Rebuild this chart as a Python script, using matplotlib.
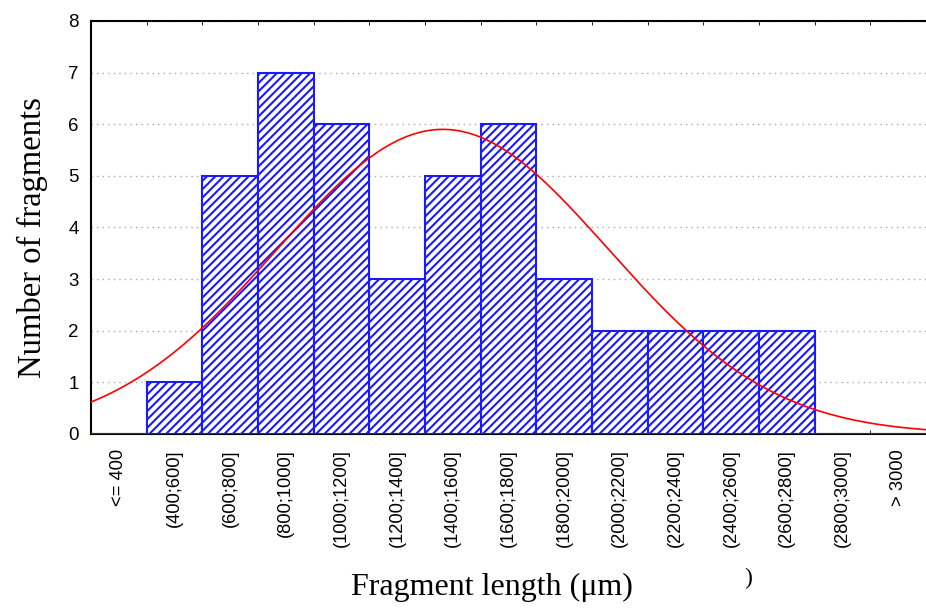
import numpy as np
import matplotlib.pyplot as plt
from matplotlib.ticker import FixedLocator

# histogram classes (um) and counts
bins = ["<= 400", "(400;600]", "(600;800]", "(800;1000]", "(1000;1200]",
        "(1200;1400]", "(1400;1600]", "(1600;1800]", "(1800;2000]",
        "(2000;2200]", "(2200;2400]", "(2400;2600]", "(2600;2800]",
        "(2800;3000]", "> 3000"]
counts = [0, 1, 5, 7, 6, 3, 5, 6, 3, 2, 2, 2, 2, 0, 0]

# fitted normal curve parameters
fit_mean = 1464
fit_sd = 595
bin_width = 200
x_start = 200  # left edge of "<= 400" class

plt.rcParams['hatch.linewidth'] = 1.5
plt.rcParams['hatch.color'] = '#4d4dff'

fig = plt.figure(figsize=(9.26, 6.08), dpi=100)
ax = fig.add_axes([0.0983, 0.2862, 0.9017, 0.6793])

n = len(bins)
edges = x_start + bin_width * np.arange(n + 1)
centers = edges[:-1] + bin_width / 2

ax.bar(centers, counts, width=bin_width, facecolor='white', edgecolor='#1a1aff',
       hatch='////', linewidth=1.5, zorder=3)
# empty classes still show their blue baseline
ax.axhline(0, color='#1a1aff', lw=2, zorder=3.5)

total = sum(counts)
xs = np.linspace(edges[0], edges[-1], 400)
ys = total * bin_width * np.exp(-0.5 * ((xs - fit_mean) / fit_sd) ** 2) / (fit_sd * np.sqrt(2 * np.pi))
ax.plot(xs, ys, color='red', lw=1.2, zorder=4)

ax.set_xlim(edges[0], edges[-1])
ax.set_ylim(0, 8)

ax.set_xticks(centers)
ax.set_xticklabels(bins, rotation=90, family='Liberation Sans', fontsize=13.2, va='top')
ax.xaxis.set_minor_locator(FixedLocator(edges))
ax.tick_params(axis='x', which='major', length=0, pad=11)
ax.tick_params(axis='x', which='minor', length=3, direction='in', top=True, bottom=True)

ax.set_yticks(range(0, 9))
ax.set_yticklabels([str(v) for v in range(0, 9)], family='Liberation Sans', fontsize=13.5)
ax.tick_params(axis='y', length=0, pad=9)

ax.grid(axis='y', linestyle=(0, (1, 3)), color='#aaaaaa', lw=1, zorder=0)
ax.spines['right'].set_visible(False)
for s in ['left', 'top', 'bottom']:
    ax.spines[s].set_linewidth(1.5)

ax.set_ylabel("Number of fragments", family='Liberation Serif', fontsize=23.5)
ax.yaxis.set_label_coords(-0.052, 0.476)
fig.text(0.531, 0.033, "Fragment length (\u03bcm)", family='Liberation Serif', fontsize=23,
         ha='center', va='center')
fig.text(0.808, 0.049, ")", family='Liberation Serif', fontsize=17, ha='center', va='center')

fig.savefig("out.png", dpi=100)
